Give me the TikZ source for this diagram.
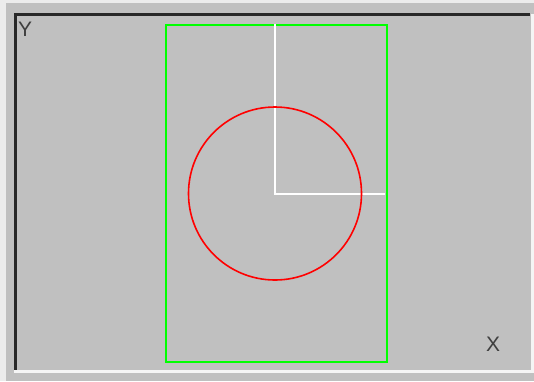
\documentclass[tikz,border=0pt]{standalone}
\usepackage{fontspec}
\setmainfont{Liberation Sans}
\definecolor{panelgray}{RGB}{192,192,192}
\definecolor{lightedge}{RGB}{236,236,236}
\definecolor{darkedge}{RGB}{40,40,40}
\definecolor{pgreen}{RGB}{0,255,0}
\definecolor{pred}{RGB}{255,0,0}
\begin{document}
\begin{tikzpicture}[x=1pt,y=-1pt,
  axlabel/.style={text=darkedge!85!panelgray,font=\fontsize{21}{21}\selectfont,inner sep=0pt},
  frameline/.style={pgreen,line width=2pt},
  axisline/.style={white,line width=2pt},
  ringline/.style={pred,line width=1.6pt}]
\useasboundingbox (0,0) rectangle (534,381);
% background
\fill[panelgray] (0,0) rectangle (534,381);
\fill[lightedge] (0,0) rectangle (534,3);
\fill[lightedge] (0,0) rectangle (6,381);
% sunken panel edges
\draw[darkedge,line width=3pt] (15.5,372) -- (15.5,14.5) -- (530,14.5);
\draw[white!92!gray,line width=3pt] (14,371.5) -- (532,371.5) -- (532,14);
% green frame
\node[draw=pgreen,line width=2pt,minimum width=221pt,minimum height=337pt,inner sep=0pt,anchor=north west] (frame) at (165,24) {};
% white axes
\coordinate (o) at (275,193.5);
\coordinate (top) at (275,24);
\coordinate (right) at (385,193.5);
\draw[axisline] (top) -- (o) -- (right);
% red circle
\draw[ringline] (o) circle (86.5);
% labels
\node[axlabel,anchor=base west] (ylab) at (18,36) {Y};
\node[axlabel,anchor=base west] (xlab) at (486,351) {X};
\end{tikzpicture}
\end{document}
